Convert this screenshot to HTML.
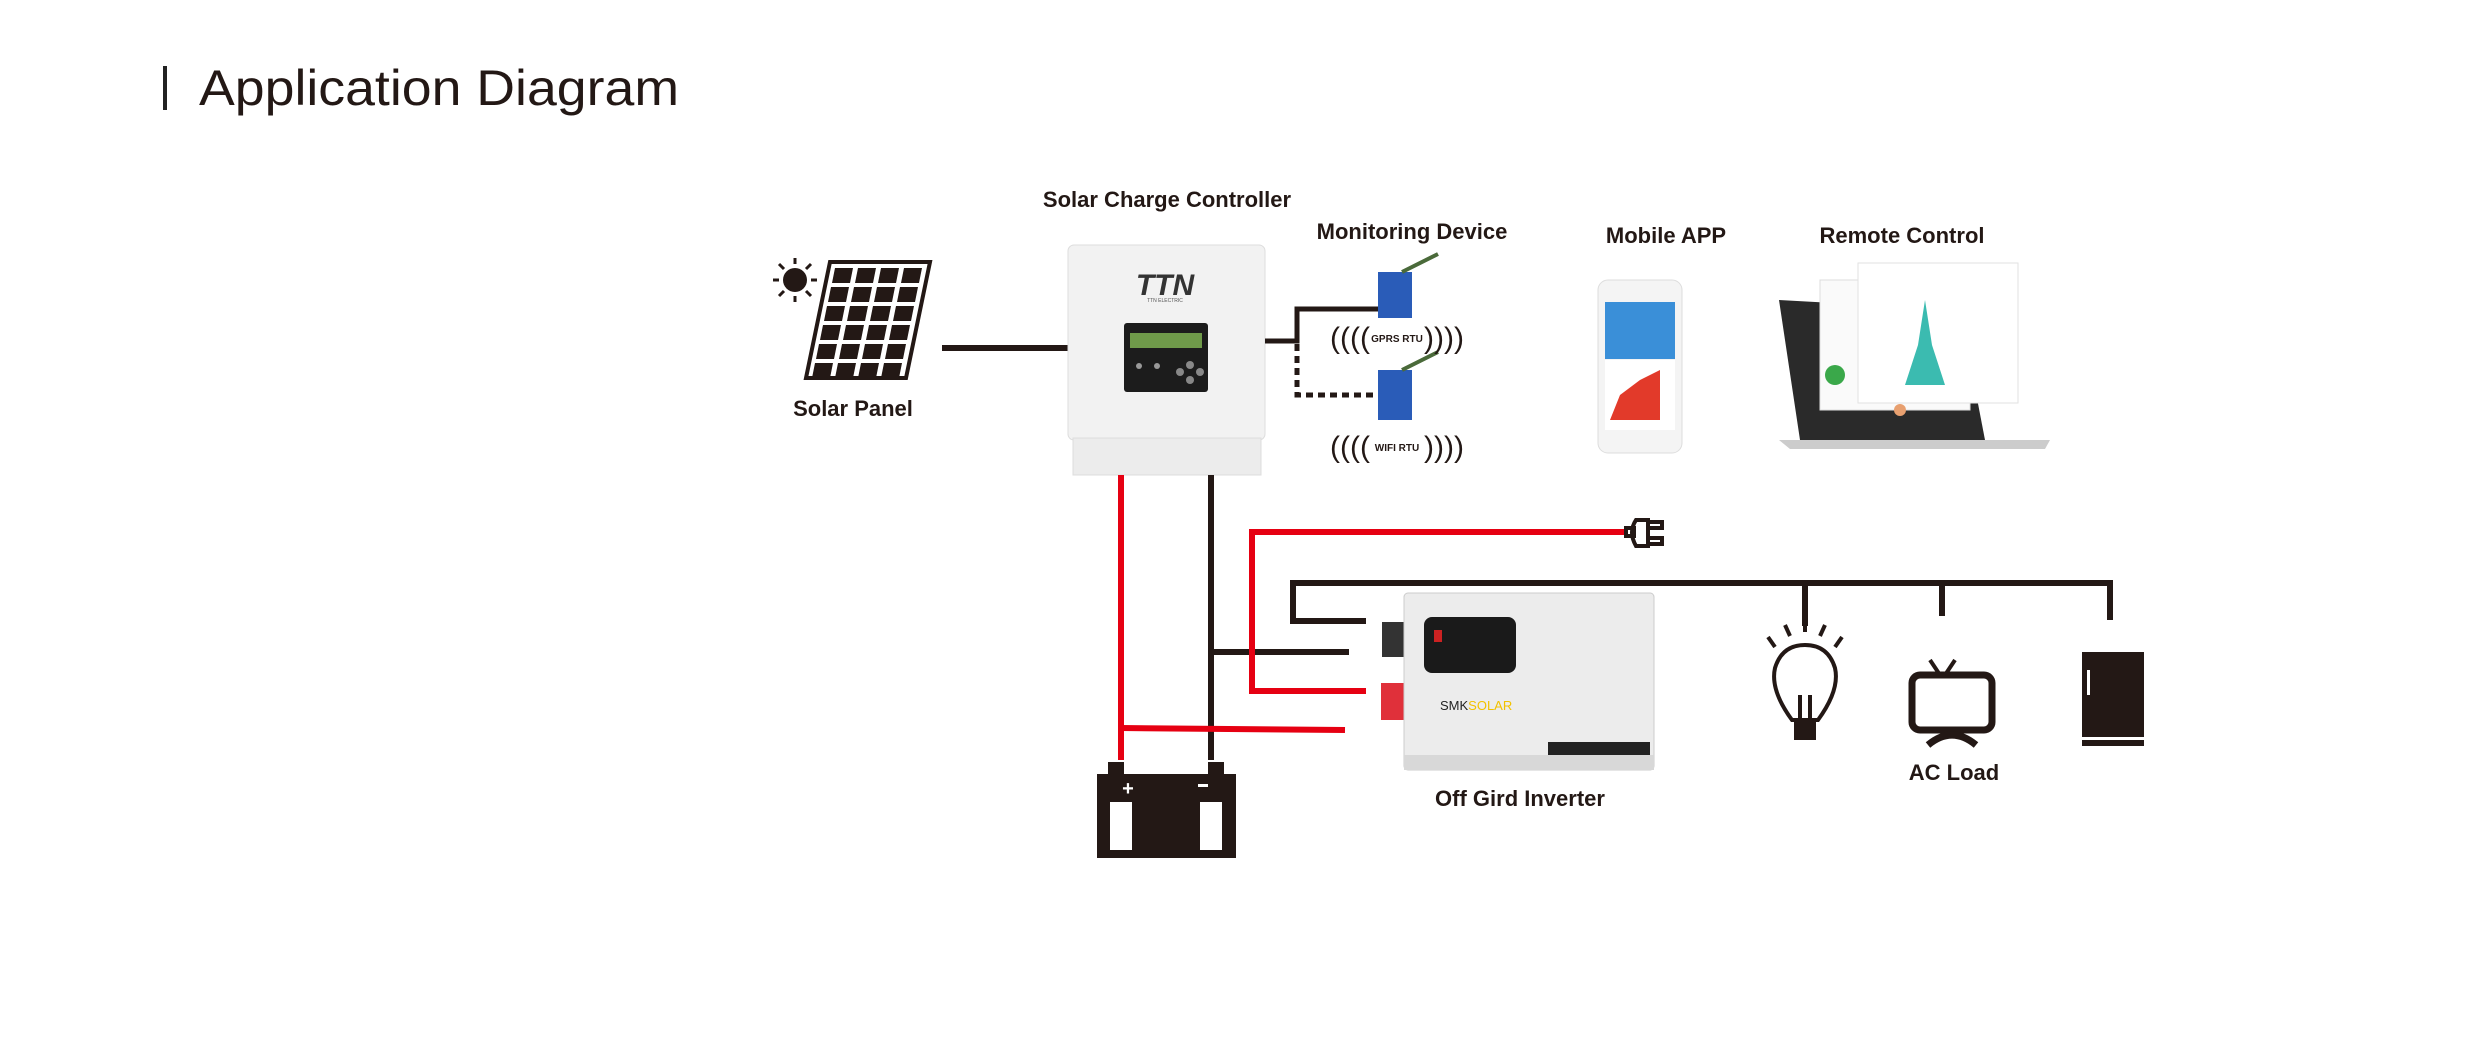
<!DOCTYPE html>
<html><head><meta charset="utf-8"><style>
html,body{margin:0;padding:0;background:#fff}
svg{display:block}
text{font-family:"Liberation Sans",sans-serif}
</style></head><body>
<svg width="2469" height="1050" viewBox="0 0 2469 1050" xmlns="http://www.w3.org/2000/svg">
<rect x="163" y="66" width="4" height="44" fill="#222"/>
<text x="199" y="105" font-size="50" fill="#231815" textLength="480" lengthAdjust="spacingAndGlyphs">Application Diagram</text>

<g font-weight="bold" font-size="22" fill="#231815" text-anchor="middle">
<text x="1167" y="207">Solar Charge Controller</text>
<text x="1412" y="239">Monitoring  Device</text>
<text x="1666" y="243">Mobile APP</text>
<text x="1902" y="243">Remote Control</text>
<text x="853" y="416">Solar Panel</text>
<text x="1520" y="806">Off Gird Inverter</text>
<text x="1954" y="780">AC Load</text>
</g>

<!-- sun -->
<circle cx="795" cy="280" r="12" fill="#231815"/>
<g stroke="#231815" stroke-width="3">
<line x1="795" y1="258" x2="795" y2="264"/><line x1="795" y1="296" x2="795" y2="302"/>
<line x1="773" y1="280" x2="779" y2="280"/><line x1="811" y1="280" x2="817" y2="280"/>
<line x1="779" y1="264" x2="784" y2="269"/><line x1="806" y1="291" x2="811" y2="296"/>
<line x1="779" y1="296" x2="784" y2="291"/><line x1="806" y1="269" x2="811" y2="264"/>
</g>
<!-- panel -->
<polygon points="830,262 930,262 906,378 806,378" fill="none" stroke="#231815" stroke-width="4"/>
<g fill="#231815">
<g id="r1"><polygon points="835,268 853,268 850,283 832,283"/><polygon points="858,268 876,268 873,283 855,283"/><polygon points="881,268 899,268 896,283 878,283"/><polygon points="904,268 922,268 919,283 901,283"/></g>
<use href="#r1" transform="translate(-4,19)"/><use href="#r1" transform="translate(-8,38)"/><use href="#r1" transform="translate(-12,57)"/><use href="#r1" transform="translate(-16,76)"/><use href="#r1" transform="translate(-20,95)"/>
</g>
<line x1="942" y1="348" x2="1068" y2="348" stroke="#231815" stroke-width="6"/>

<!-- controller -->
<rect x="1068" y="245" width="197" height="195" rx="6" fill="#f2f2f2" stroke="#ddd"/>
<rect x="1073" y="438" width="188" height="37" fill="#ececec" stroke="#ddd"/>
<text x="1165" y="295" font-size="30" font-weight="bold" font-style="italic" fill="#333" text-anchor="middle">TTN</text>
<text x="1165" y="302" font-size="5" fill="#555" text-anchor="middle">TTN ELECTRIC</text>
<rect x="1124" y="323" width="84" height="69" rx="3" fill="#1c1c1c"/>
<rect x="1130" y="333" width="72" height="15" fill="#6f9a4a"/>
<circle cx="1180" cy="372" r="4" fill="#888"/><circle cx="1190" cy="365" r="4" fill="#888"/><circle cx="1200" cy="372" r="4" fill="#888"/><circle cx="1190" cy="380" r="4" fill="#888"/>
<circle cx="1139" cy="366" r="3" fill="#999"/><circle cx="1157" cy="366" r="3" fill="#999"/>

<!-- monitoring connectors -->
<polyline points="1265,341 1297,341 1297,309 1380,309" fill="none" stroke="#231815" stroke-width="5"/>
<polyline points="1297,344 1297,395 1380,395" fill="none" stroke="#231815" stroke-width="5" stroke-dasharray="7,5"/>
<g>
<rect x="1378" y="272" width="34" height="46" fill="#2a5cb8"/>
<line x1="1402" y1="272" x2="1438" y2="254" stroke="#4a6a3a" stroke-width="4"/>
<rect x="1378" y="370" width="34" height="50" fill="#2a5cb8"/>
<line x1="1402" y1="370" x2="1438" y2="352" stroke="#4a6a3a" stroke-width="4"/>
</g>
<g font-size="10" font-weight="bold" fill="#231815" text-anchor="middle">
<text x="1397" y="342">GPRS RTU</text><text x="1397" y="451">WIFI RTU</text>
</g>
<g font-size="30" fill="#231815" text-anchor="middle">
<text x="1350" y="348">((((</text><text x="1444" y="348">))))</text>
<text x="1350" y="457">((((</text><text x="1444" y="457">))))</text>
</g>

<!-- phone -->
<rect x="1598" y="280" width="84" height="173" rx="10" fill="#f4f4f4" stroke="#ddd"/>
<rect x="1605" y="302" width="70" height="57" fill="#3a8fd8"/>
<rect x="1605" y="360" width="70" height="70" fill="#fff"/>
<polygon points="1610,420 1620,395 1640,380 1660,370 1660,420" fill="#e23a2a"/>
<!-- laptop -->
<polygon points="1779,300 1960,310 1985,440 1800,440" fill="#2a2a2a"/>
<polygon points="1779,440 2050,440 2045,449 1790,449" fill="#ccc"/>
<rect x="1820" y="280" width="150" height="130" fill="#fafafa" stroke="#ddd"/>
<rect x="1858" y="263" width="160" height="140" fill="#fff" stroke="#e2e2e2"/>
<polygon points="1905,385 1918,345 1925,300 1932,345 1945,385" fill="#3bbbb0"/>
<circle cx="1835" cy="375" r="10" fill="#3aa84a"/>
<circle cx="1900" cy="410" r="6" fill="#e8a070"/>

<!-- controller down wires -->
<line x1="1121" y1="475" x2="1121" y2="760" stroke="#e60012" stroke-width="6"/>
<line x1="1211" y1="475" x2="1211" y2="760" stroke="#231815" stroke-width="6"/>
<line x1="1211" y1="652" x2="1349" y2="652" stroke="#231815" stroke-width="6"/>
<polyline points="1624,532 1252,532 1252,691 1366,691" fill="none" stroke="#e60012" stroke-width="6"/>
<line x1="1121" y1="728" x2="1345" y2="730" stroke="#e60012" stroke-width="6"/>
<!-- plug -->
<g fill="none" stroke="#231815" stroke-width="4">
<path d="M1636,520 Q1628,532 1636,546 L1648,546 L1648,520 Z"/>
<rect x="1626" y="528" width="8" height="8"/>
<rect x="1648" y="522" width="14" height="6"/><rect x="1648" y="538" width="14" height="6"/>
</g>

<!-- AC bus -->
<polyline points="1366,621 1293,621 1293,583 2110,583 2110,620" fill="none" stroke="#231815" stroke-width="6"/>
<line x1="1805" y1="583" x2="1805" y2="626" stroke="#231815" stroke-width="6"/>
<line x1="1942" y1="583" x2="1942" y2="616" stroke="#231815" stroke-width="6"/>

<!-- inverter -->
<rect x="1382" y="622" width="22" height="35" fill="#333"/>
<rect x="1381" y="683" width="23" height="37" fill="#e0303a"/>
<rect x="1404" y="593" width="250" height="177" rx="4" fill="#ececec" stroke="#ccc"/>
<rect x="1404" y="755" width="250" height="15" fill="#d8d8d8"/>
<rect x="1424" y="617" width="92" height="56" rx="8" fill="#1a1a1a"/>
<rect x="1434" y="630" width="8" height="12" fill="#c22"/>
<rect x="1548" y="742" width="102" height="13" fill="#222"/>
<text x="1440" y="710" font-size="13" fill="#222" font-family="Liberation Serif,serif">SMK<tspan fill="#f2c200">SOLAR</tspan></text>

<!-- battery -->
<g fill="#231815">
<rect x="1097" y="774" width="139" height="84"/>
<rect x="1108" y="762" width="16" height="14"/><rect x="1208" y="762" width="16" height="14"/>
</g>
<rect x="1110" y="802" width="22" height="48" fill="#fff"/><rect x="1200" y="802" width="22" height="48" fill="#fff"/>
<text x="1128" y="795" font-size="20" font-weight="bold" fill="#fff" text-anchor="middle">+</text>
<rect x="1198" y="784" width="10" height="3" fill="#fff"/>

<!-- bulb -->
<g stroke="#231815" stroke-width="4" fill="none">
<path d="M1792,720 Q1770,690 1775,668 Q1782,645 1805,645 Q1828,645 1835,668 Q1840,690 1818,720 Z"/>
<path d="M1800,718 L1800,695 M1810,718 L1810,695"/>
<line x1="1805" y1="620" x2="1805" y2="632"/>
<line x1="1785" y1="625" x2="1790" y2="636"/><line x1="1825" y1="625" x2="1820" y2="636"/>
<line x1="1768" y1="637" x2="1775" y2="647"/><line x1="1842" y1="637" x2="1835" y2="647"/>
</g>
<rect x="1794" y="722" width="22" height="18" fill="#231815"/>
<!-- TV -->
<rect x="1912" y="675" width="80" height="55" rx="8" fill="none" stroke="#231815" stroke-width="7"/>
<path d="M1940,675 L1930,660 M1945,675 L1955,660" stroke="#231815" stroke-width="4"/>
<path d="M1928,745 Q1952,725 1976,745" fill="none" stroke="#231815" stroke-width="7"/>
<!-- fridge -->
<rect x="2082" y="652" width="62" height="94" fill="#231815"/>
<rect x="2082" y="737" width="62" height="3" fill="#fff"/>
<rect x="2087" y="670" width="3" height="25" fill="#fff"/>
</svg>
</body></html>
